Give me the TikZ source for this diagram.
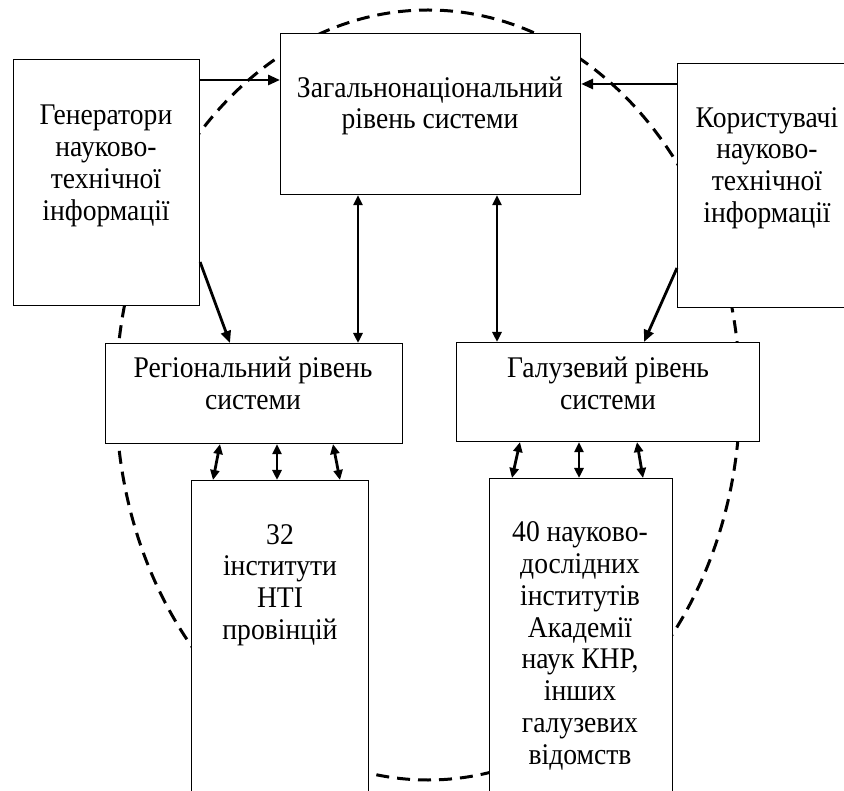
\documentclass[tikz,border=0pt]{standalone}
\usepackage{fontspec}
\setmainfont[FakeStretch=0.92]{Liberation Serif}
\usetikzlibrary{arrows.meta}
\begin{document}
\begin{tikzpicture}[x=1pt,y=-1pt,
  box/.style={draw,line width=1.1pt,fill=white,anchor=north west,inner sep=0pt},
  txt/.style={align=center,font=\fontsize{30}{31.8}\selectfont,inner sep=0pt},
  arr/.style={line width=2.8pt,-{Triangle[length=12pt,width=10pt]}},
  darr/.style={line width=2.8pt,{Triangle[length=10pt,width=9pt]}-{Triangle[length=10pt,width=9pt]}},
  ring/.style={line width=3pt,dash pattern=on 13pt off 8pt}]
\useasboundingbox (0,0) rectangle (844,791);
\clip (0,0) rectangle (844,791);
\fill[white] (0,0) rectangle (844,791);
% dashed ellipse
\draw[ring] (428,395) ellipse [x radius=312, y radius=385];
% boxes
\node[box,minimum width=300pt,minimum height=161pt] (top) at (280,33) {};
\node[box,minimum width=186pt,minimum height=246pt] (gen) at (13,59) {};
\node[box,minimum width=170pt,minimum height=244pt] (usr) at (677,63) {};
\node[box,minimum width=297pt,minimum height=100pt] (reg) at (105,343) {};
\node[box,minimum width=303pt,minimum height=99pt] (gal) at (456,342) {};
\node[box,minimum width=177pt,minimum height=330pt] (inst) at (191,480) {};
\node[box,minimum width=183pt,minimum height=330pt] (acad) at (489,478) {};
% texts
\node[txt] (topT) at (430,106) {Загальнонаціональний\\рівень системи};
\node[txt] (genT) at (106,166) {Генератори\\науково-\\технічної\\інформації};
\node[txt] (usrT) at (767,168) {Користувачі\\науково-\\технічної\\інформації};
\node[txt] (regT) at (253,383) {Регіональний рівень\\системи};
\node[txt] (galT) at (608,383) {Галузевий рівень\\системи};
\node[txt] (instT) at (280,585) {32\\інститути\\НТІ\\провінцій};
\node[txt] (acadT) at (580,646) {40 науково-\\дослідних\\інститутів\\Академії\\наук КНР,\\інших\\галузевих\\відомств};
% arrows
\draw[arr] (gen.east |- 0,80) -- (top.west |- 0,80);
\draw[arr] (usr.west |- 0,84) -- (top.east |- 0,84);
\draw[arr] (gen.east |- 0,262) -- (reg.north -| 230,0);
\draw[arr] (usr.west |- 0,268) -- (gal.north -| 644,0);
\draw[darr] (top.south -| 358,0) -- (reg.north -| 358,0);
\draw[darr] (top.south -| 497,0) -- (gal.north -| 497,0);
\draw[darr] (reg.south -| 220,0) -- (inst.north -| 213,0);
\draw[darr] (reg.south -| 277,0) -- (inst.north -| 277,0);
\draw[darr] (reg.south -| 333,0) -- (inst.north -| 340,0);
\draw[darr] (gal.south -| 520,0) -- (acad.north -| 512,0);
\draw[darr] (gal.south -| 579,0) -- (acad.north -| 579,0);
\draw[darr] (gal.south -| 637,0) -- (acad.north -| 643,0);
\end{tikzpicture}
\end{document}
